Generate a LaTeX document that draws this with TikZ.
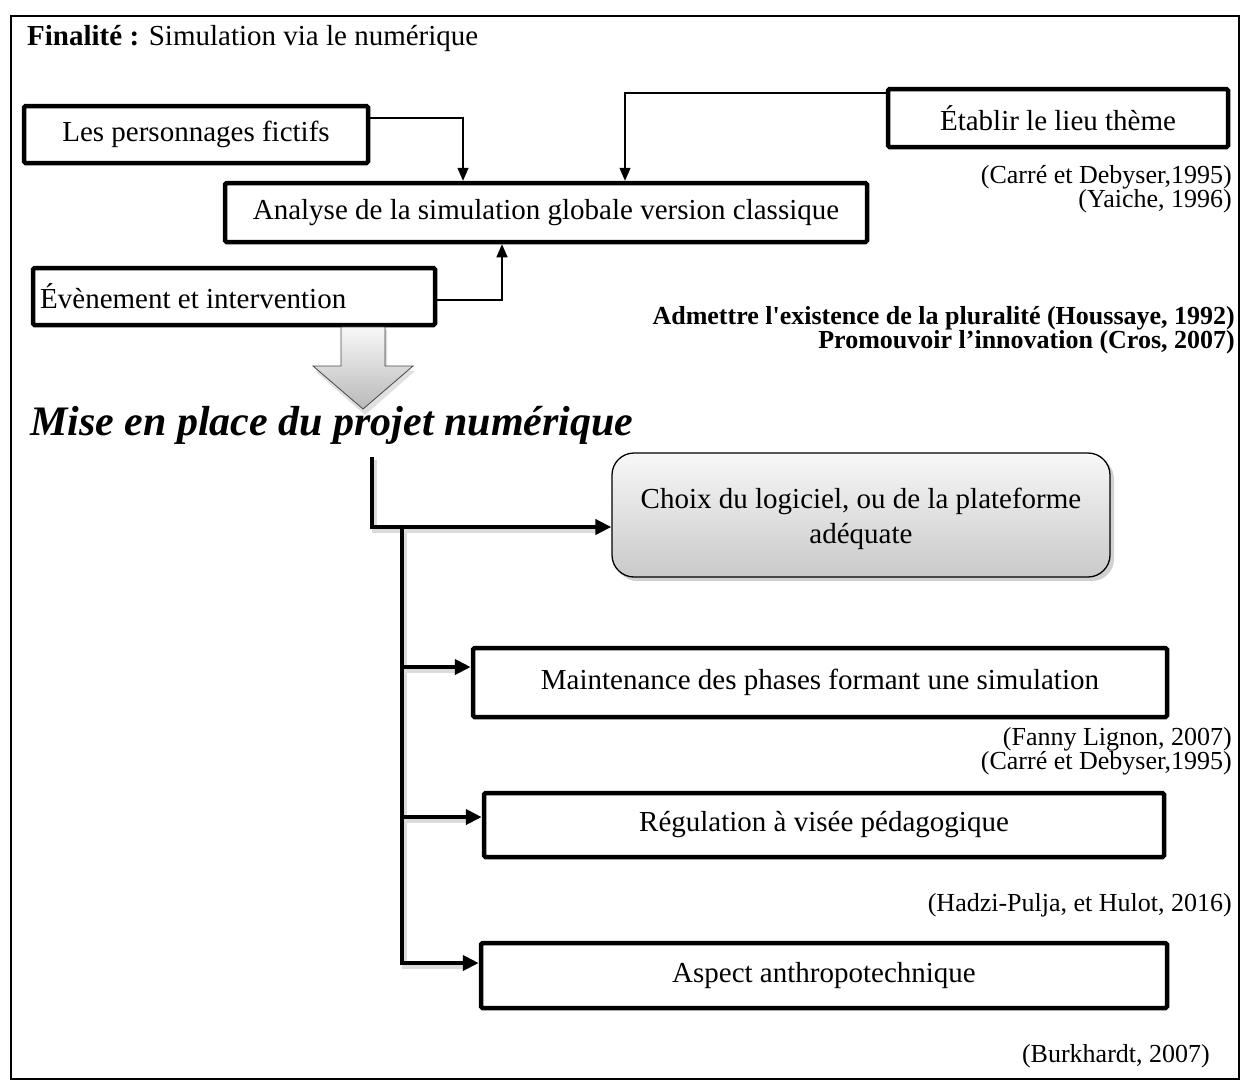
\documentclass[tikz,border=0pt]{standalone}
\usepackage{fontspec}
\setmainfont{Liberation Serif}
\newfontfamily\plainserif{Liberation Serif}
\usetikzlibrary{arrows.meta}
\newcommand\myboxfont{\fontsize{29}{35}\selectfont}
\newcommand\mycitefont{\fontsize{26}{30}\selectfont}
\newcommand\mybigfont{\fontsize{42}{48}\selectfont\bfseries\itshape}
\begin{document}
\begin{tikzpicture}[x=1pt,y=-1pt,
  box/.style={draw, line width=4.5pt, rounded corners=1.5pt, inner sep=0pt, font=\myboxfont, align=center},
  conn/.style={line width=1.4pt, -{Triangle[length=13pt,width=11pt]}},
  trunk/.style={line width=4.5pt, -{Triangle[length=16pt,width=15pt]}},
  trunkshadow/.style={line width=5pt, draw=black!14},
  cite/.style={anchor=east, inner sep=0pt, font=\mycitefont},
  bcite/.style={anchor=east, inner sep=0pt, font=\mycitefont\bfseries}
]
\useasboundingbox (0,0) rectangle (1240,1080);
\fill[white] (0,0) rectangle (1240,1080);
\draw[line width=2pt] (11,16) rectangle (1239,1079);

% title
\node[anchor=base west, inner sep=0pt, font=\myboxfont] (title) at (27,45) {\textbf{Finalité :} Simulation via le numérique};

% top boxes
\node[box, minimum width=344pt, minimum height=57pt] (les) at (196,134.5) {Les personnages fictifs};
\node[box, minimum width=340pt, minimum height=58pt] (etab) at (1058,118) {Établir le lieu thème};
\node[box, minimum width=642pt, minimum height=59pt] (ana) at (546,212.5) {Analyse de la simulation globale version classique};
\node[box, minimum width=402pt, minimum height=57pt] (eve) at (234,296.5) {};
\node[anchor=west, inner sep=0pt, font=\myboxfont] (evetxt) at (40,296) {Évènement et intervention};

\draw[conn] (les.east |- 0,118) -| (463,0 |- ana.north);
\draw[conn] (etab.west |- 0,93) -| (625,0 |- ana.north);
\draw[conn] (eve.east |- 0,300) -| (502,0 |- ana.south);

% citations top
\node[cite] (c1) at (1232,177) {(Carré et Debyser,1995)};
\node[cite] (c2) at (1232,201) {(Yaiche, 1996)};
\node[bcite] (b1) at (1235,318) {\plainserif\bfseries Admettre l'existence de la pluralité (Houssaye, 1992)};
\node[bcite] (b2) at (1235,342) {Promouvoir l’innovation (Cros, 2007)};

% big arrow (shadow, then arrow)
\fill[black!12] (343,330) -- (387,330) -- (387,371) -- (415,371) -- (365,415) -- (315,371) -- (343,371) -- cycle;
\filldraw[draw=gray!60!black, line width=0.8pt, top color=gray!6, bottom color=gray!55]
  (341,327) -- (385,327) -- (385,366) -- (413,366) -- (363,409) -- (313,366) -- (341,366) -- cycle;

\node[anchor=west, inner sep=0pt, font=\mybigfont] (mise) at (30,425) {Mise en place du projet numérique};

% lower boxes
\fill[black!18, rounded corners=22pt] (615,457) rectangle (1114,581);
\node[draw, line width=1.3pt, rounded corners=22pt, top color=gray!6, bottom color=gray!42,
  minimum width=498pt, minimum height=124pt, inner sep=0pt] (choix) at (861,515) {};
\node[align=center, inner sep=0pt, font=\myboxfont] (choixtxt) at (861,519) {Choix du logiciel, ou de la plateforme\\adéquate};
\node[box, minimum width=694pt, minimum height=69pt] (maint) at (820,682.5) {Maintenance des phases formant une simulation};
\node[box, minimum width=680pt, minimum height=64pt] (reg) at (824,825) {Régulation à visée pédagogique};
\node[box, minimum width=686pt, minimum height=65pt] (asp) at (824,975.5) {Aspect anthropotechnique};

\coordinate (t0) at (372,457);
\coordinate (t1) at (402,527);
\coordinate (t2) at (402,667);
\coordinate (t3) at (402,817);

% soft shadows of trunk lines
\begin{scope}[transform canvas={shift={(2pt,-3pt)}}]
\draw[trunkshadow] (t0) |- ([xshift=-14pt]choix.west |- 0,527);
\draw[trunkshadow] (t1) |- ([xshift=-14pt]asp.west |- 0,963);
\draw[trunkshadow] (t2) -- ([xshift=-14pt]maint.west |- 0,667);
\draw[trunkshadow] (t3) -- ([xshift=-14pt]reg.west |- 0,817);
\end{scope}

\draw[trunk] (t0) |- (choix.west |- 0,527);
\draw[trunk] (t1) |- (asp.west |- 0,963);
\draw[trunk] (t2) -- (maint.west |- 0,667);
\draw[trunk] (t3) -- (reg.west |- 0,817);

% citations bottom
\node[cite] (c3) at (1232,739) {(Fanny Lignon, 2007)};
\node[cite] (c4) at (1232,763) {(Carré et Debyser,1995)};
\node[cite] (c5) at (1232,905) {(Hadzi-Pulja, et Hulot, 2016)};
\node[cite] (c6) at (1210,1056) {(Burkhardt, 2007)};
\end{tikzpicture}
\end{document}
